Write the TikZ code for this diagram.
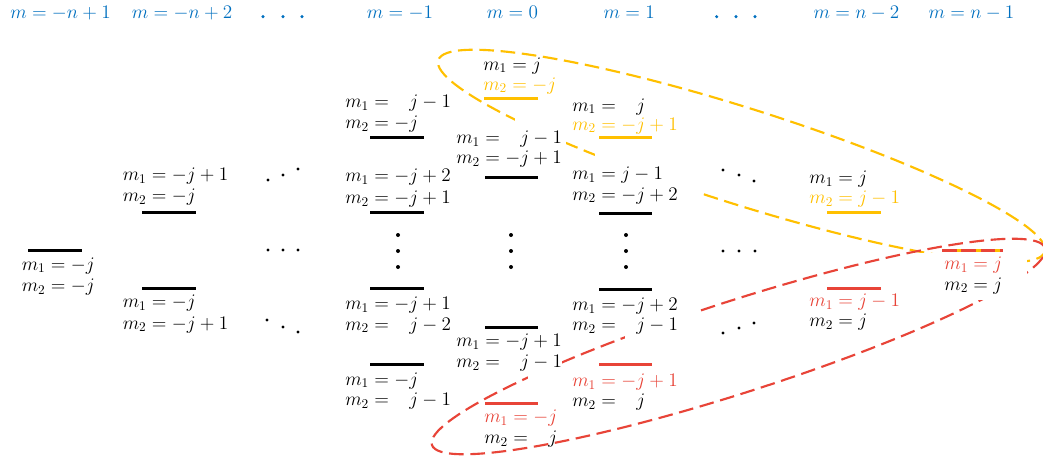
\documentclass[tikz,border=0pt]{standalone}
\definecolor{hblue}{RGB}{0,112,192}
\definecolor{oyel}{RGB}{255,192,0}
\definecolor{ored}{RGB}{232,68,56}
\tikzset{
  lab/.style={font=\fontsize{13.9}{16}\selectfont, inner sep=0pt, xshift=1pt, anchor=base west},
  hdr/.style={font=\fontsize{14.8}{16}\selectfont, inner sep=0pt, anchor=base west, text=hblue},
  bar/.style={line width=2.25pt},
  ell/.style={line width=1.6pt, dash pattern=on 11pt off 5pt},
  mask/.style={fill=white},
}
\begin{document}
\begin{tikzpicture}[x=0.75pt, y=-0.75pt]
\useasboundingbox (0,0) rectangle (1043,461);
\fill[white] (0,0) rectangle (1043,461);

% header
\node[hdr] (h1) at (10,18.5) {$m=-n+1$};
\node[hdr] (h2) at (131.7,18.5) {$m=-n+2$};
\node[hdr] (h3) at (366.7,18.5) {$m=-1$};
\node[hdr] (h4) at (486.7,18.5) {$m=0$};
\node[hdr] (h5) at (603.3,18.5) {$m=1$};
\node[hdr] (h6) at (813.3,18.5) {$m=n-2$};
\node[hdr] (h7) at (928.3,18.5) {$m=n-1$};
\foreach \x in {263,283,302,716.7,736,755} \fill[hblue] (\x,16.7) circle [radius=1.3pt];

% ellipses
\draw[ell, oyel, rotate around={-17.55:(741.5,156)}] (741.5,156) ellipse [x radius=238.5pt, y radius=36pt];
\draw[ell, ored, rotate around={17.8:(738.5,346.5)}] (738.5,346.5) ellipse [x radius=241.5pt, y radius=34.5pt];

% parts of the ellipses hidden behind the text boxes
\fill[mask] (515,118) rectangle (566,150);
\fill[mask] (595,150) rectangle (703,206);
\fill[mask] (528,355) rectangle (562,380);
\fill[mask] (625,308) rectangle (697,340);
\fill[mask] (913,253) rectangle (1027,300);

% column m=-n+1
\node[lab] (c1a) at (20.2,270) {$m_1=-j$};
\node[lab] (c1b) at (20.2,291.5) {$m_2=-j$};

% column m=-n+2
\node[lab] (c2a1) at (121.2,180.5) {$m_1=-j+1$};
\node[lab] (c2a2) at (121.2,201.5) {$m_2=-j$};
\node[lab] (c2b1) at (121.2,307.5) {$m_1=-j$};
\node[lab] (c2b2) at (121.2,329) {$m_2=-j+1$};

% column m=-1
\node[lab] (c3a1) at (343.7,107.3) {$m_1=\phantom{-}j-1$};
\node[lab] (c3a2) at (343.7,128.3) {$m_2=-j$};
\node[lab] (c3b1) at (343.7,181.7) {$m_1=-j+2$};
\node[lab] (c3b2) at (343.7,203.3) {$m_2=-j+1$};
\node[lab] (c3c1) at (343.7,309.3) {$m_1=-j+1$};
\node[lab] (c3c2) at (343.7,330) {$m_2=\phantom{-}j-2$};
\node[lab] (c3d1) at (343.7,385) {$m_1=-j$};
\node[lab] (c3d2) at (343.7,405.5) {$m_2=\phantom{-}j-1$};

% column m=0
\node[lab] (c4a1) at (481.7,70) {$m_1=j$};
\node[lab, text=oyel] (c4a2) at (481.7,90) {$m_2=-j$};
\node[lab] (c4b1) at (454.7,143.3) {$m_1=\phantom{-}j-1$};
\node[lab] (c4b2) at (454.7,163.3) {$m_2=-j+1$};
\node[lab] (c4c1) at (454.7,346.7) {$m_1=-j+1$};
\node[lab] (c4c2) at (454.7,367.3) {$m_2=\phantom{-}j-1$};
\node[lab, text=ored] (c4d1) at (482.7,422.7) {$m_1=-j$};
\node[lab] (c4d2) at (482.7,443.3) {$m_2=\phantom{-}j$};

% column m=1
\node[lab] (c5a1) at (570.7,111) {$m_1=\phantom{-}j$};
\node[lab, text=oyel] (c5a2) at (570.7,130) {$m_2=-j+1$};
\node[lab] (c5b1) at (570.7,179.3) {$m_1=j-1$};
\node[lab] (c5b2) at (570.7,200) {$m_2=-j+2$};
\node[lab] (c5c1) at (570.7,310.7) {$m_1=-j+2$};
\node[lab] (c5c2) at (570.7,330.7) {$m_2=\phantom{-}j-1$};
\node[lab, text=ored] (c5d1) at (570.7,386.7) {$m_1=-j+1$};
\node[lab] (c5d2) at (570.7,406.7) {$m_2=\phantom{-}j$};

% column m=n-2
\node[lab] (c6a1) at (807.7,183.3) {$m_1=j$};
\node[lab, text=oyel] (c6a2) at (807.7,203.3) {$m_2=j-1$};
\node[lab, text=ored] (c6b1) at (807.7,306.7) {$m_1=j-1$};
\node[lab] (c6b2) at (807.7,326.7) {$m_2=j$};

% column m=n-1
\node[lab, text=ored] (c7a1) at (942.7,269.3) {$m_1=j$};
\node[lab] (c7a2) at (942.7,290) {$m_2=j$};

% bars
\draw[bar] (28,250) -- (82,250);
\draw[bar] (142,212) -- (196,212);
\draw[bar] (142,288) -- (196,288);
\draw[bar] (370,137) -- (424,137);
\draw[bar] (370,212.5) -- (424,212.5);
\draw[bar] (370,288.5) -- (424,288.5);
\draw[bar] (370,364.5) -- (424,364.5);
\draw[bar, oyel] (484,98) -- (538,98);
\draw[bar] (485,177) -- (538,177);
\draw[bar] (485,327) -- (538,327);
\draw[bar, ored] (485,403) -- (538,403);
\draw[bar, oyel] (599,137) -- (652,137);
\draw[bar] (599,213) -- (652,213);
\draw[bar] (599,289) -- (652,289);
\draw[bar, ored] (599,364.5) -- (652,364.5);
\draw[bar, oyel] (827,212) -- (881,212);
\draw[bar, ored] (827,288) -- (881,288);
\draw[bar, oyel] (942,250) -- (1003,250);
\draw[bar, ored, dash pattern=on 11pt off 3.5pt] (942,250) -- (1003,250);

% vertical dots
\foreach \x in {398,511,626} {
  \foreach \y in {235,251,267} \fill (\x,\y) circle [radius=1.5pt];
}
% diagonal / horizontal dots
\foreach \p in {(268,180),(283,175),(298,169),(268,250),(283,250),(298,250),
                (267,320),(283,327),(298,332),(723,170),(739,175),(754,181),
                (723,251),(739,251),(755,251),(723,333),(739,328),(754,323)}
  \fill \p circle [radius=1.3pt];
\end{tikzpicture}
\end{document}
